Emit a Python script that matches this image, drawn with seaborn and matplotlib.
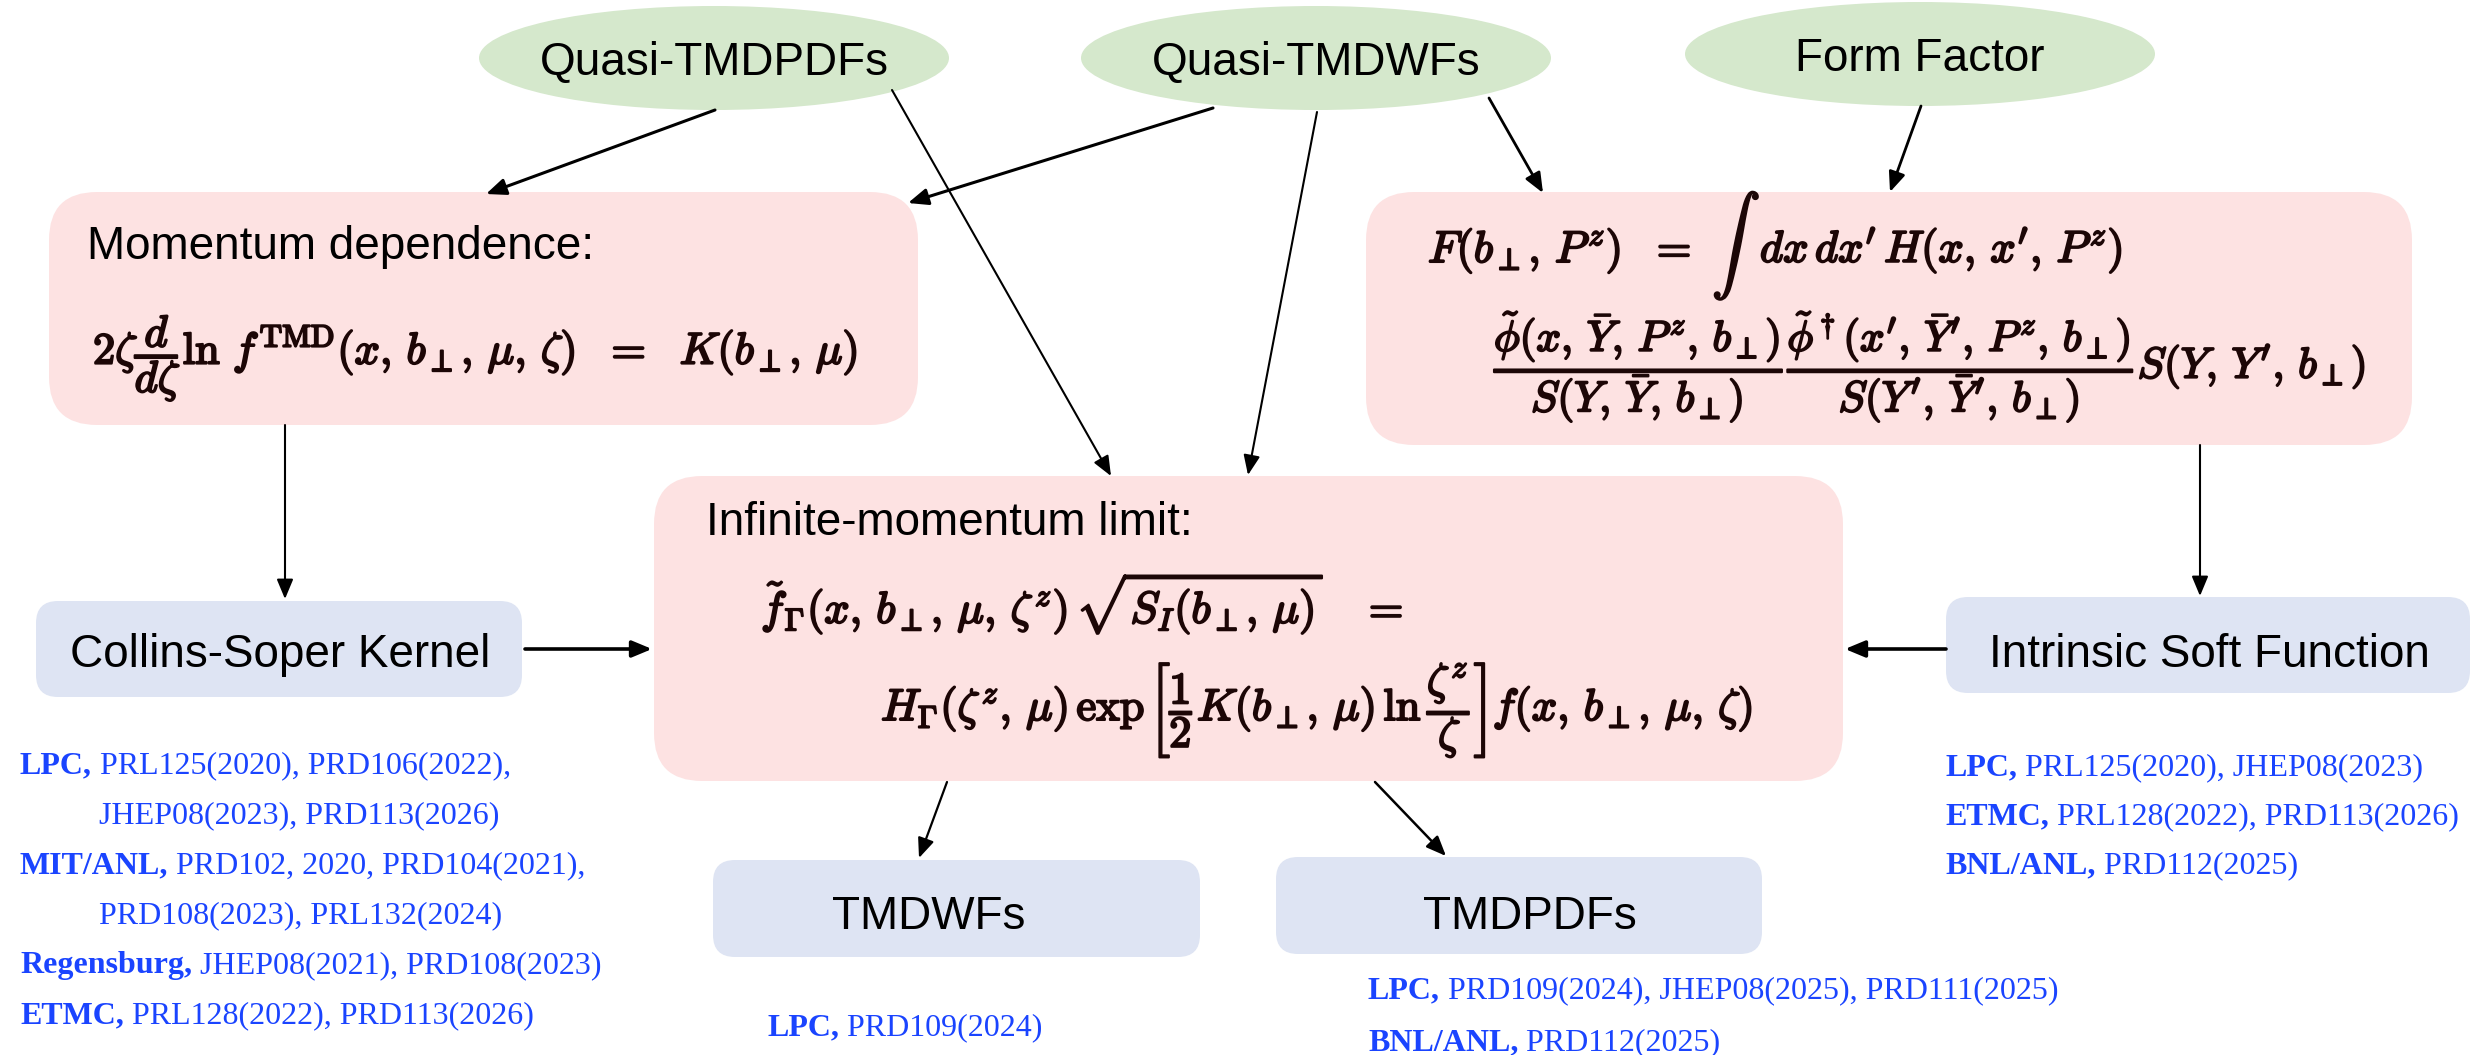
import matplotlib
matplotlib.use("Agg")
import matplotlib.pyplot as plt
import matplotlib.patheffects as pe
import seaborn as sns
from matplotlib.patches import Ellipse, FancyBboxPatch, FancyArrowPatch


# 1. Content of the diagram
source_labels = ["Quasi-TMDPDFs", "Quasi-TMDWFs", "Form Factor"]
result_labels = ["Collins-Soper Kernel", "Intrinsic Soft Function", "TMDWFs", "TMDPDFs"]
box_titles = ["Momentum dependence:", "Infinite-momentum limit:"]

eq_momentum = (r"$2\zeta\dfrac{d}{d\zeta}\ln\, f^{\mathrm{TMD}}(x,\,b_\perp,\,\mu,\,\zeta)"
               r"\ \ =\ \ K(b_\perp,\,\mu)$")
eq_form_lhs = r"$F(b_\perp,\,P^z)\ \ =$"
eq_form_int = r"$\int$"
eq_form_rhs = r"$dx\,dx'\,H(x,\,x',\,P^z)$"
eq_form_2 = (r"$\dfrac{\tilde{\phi}(x,\,\bar{Y},\,P^z,\,b_\perp)}{S(Y,\,\bar{Y},\,b_\perp)}"
             r"\dfrac{\tilde{\phi}^\dagger(x',\,\bar{Y}',\,P^z,\,b_\perp)}{S(Y',\,\bar{Y}',\,b_\perp)}"
             r"S(Y,\,Y',\,b_\perp)$")
eq_limit_1 = r"$\tilde{f}_\Gamma(x,\,b_\perp,\,\mu,\,\zeta^z)\,\sqrt{S_I(b_\perp,\,\mu)}\ \ \ =$"
eq_limit_2 = (r"$H_\Gamma(\zeta^z,\,\mu)\,\exp\left[\dfrac{1}{2}K(b_\perp,\,\mu)\,\ln\dfrac{\zeta^z}{\zeta}\right]"
              r"f(x,\,b_\perp,\,\mu,\,\zeta)$")

refs_cs = [
    ("LPC,", " PRL125(2020), PRD106(2022),"),
    ("", "JHEP08(2023), PRD113(2026)"),
    ("MIT/ANL,", " PRD102, 2020, PRD104(2021),"),
    ("", "PRD108(2023), PRL132(2024)"),
    ("Regensburg,", " JHEP08(2021), PRD108(2023)"),
    ("ETMC,", " PRL128(2022), PRD113(2026)"),
]
refs_soft = [
    ("LPC,", " PRL125(2020), JHEP08(2023)"),
    ("ETMC,", " PRL128(2022), PRD113(2026)"),
    ("BNL/ANL,", " PRD112(2025)"),
]
refs_wf = [("LPC,", " PRD109(2024)")]
refs_pdf = [
    ("LPC,", " PRD109(2024), JHEP08(2025), PRD111(2025)"),
    ("BNL/ANL,", " PRD112(2025)"),
]

# 2. Layout (pixel coordinates, y pointing down)
green, pink, blue = "#d5e8cc", "#fde2e2", "#dee4f3"
ink, math_ink, ref_ink = "black", "#1c0606", "#1a44ff"

ellipses = [(714, 58), (1316, 58), (1920, 54)]
pink_boxes = [(49, 192, 918, 425), (1366, 192, 2412, 445), (654, 476, 1843, 781)]
blue_boxes = [(36, 601, 522, 697), (1946, 597, 2470, 693), (713, 860, 1200, 957), (1276, 857, 1762, 954)]
blue_text = [(280, 667), (2209, 667), (929, 929), (1530, 929)]

arrows = [
    ((715, 110), (486, 194), 2.2),
    ((1213, 108), (908, 203), 2.2),
    ((892, 90), (1111, 476), 1.5),
    ((1317, 112), (1248, 475), 1.5),
    ((1489, 98), (1543, 193), 2.0),
    ((1921, 106), (1890, 192), 2.0),
    ((285, 425), (285, 599), 1.5),
    ((2200, 445), (2200, 596), 1.5),
    ((525, 649), (652, 649), 2.6),
    ((1946, 649), (1845, 649), 2.6),
    ((947, 782), (919, 858), 1.6),
    ((1375, 782), (1446, 856), 1.8),
]

# 3. Style
sns.set_theme(style="white")
plt.rcParams["font.family"] = ["Liberation Sans", "DejaVu Sans"]
plt.rcParams["mathtext.fontset"] = "cm"

fig = plt.figure(figsize=(24.76, 10.55), dpi=100)
ax = fig.add_axes([0, 0, 1, 1])
ax.set_xlim(0, 2476)
ax.set_ylim(1055, 0)
ax.set_axis_off()

# 4. Shapes
for (cx, cy), label in zip(ellipses, source_labels):
    ax.add_patch(Ellipse((cx, cy), 470, 104, facecolor=green, edgecolor="none"))
    ax.text(cx, cy + 17, label, fontsize=33, color=ink, ha="center", va="baseline")

for x0, y0, x1, y1 in pink_boxes:
    ax.add_patch(FancyBboxPatch((x0, y0), x1 - x0, y1 - y0,
                                boxstyle="round,pad=0,rounding_size=48",
                                facecolor=pink, edgecolor="none"))

for (x0, y0, x1, y1), (tx, ty), label in zip(blue_boxes, blue_text, result_labels):
    ax.add_patch(FancyBboxPatch((x0, y0), x1 - x0, y1 - y0,
                                boxstyle="round,pad=0,rounding_size=22",
                                facecolor=blue, edgecolor="none"))
    ax.text(tx, ty, label, fontsize=33, color=ink, ha="center", va="baseline")

# 5. Box contents
ax.text(87, 259, box_titles[0], fontsize=33, color=ink, va="baseline")
ax.text(706, 535, box_titles[1], fontsize=33, color=ink, va="baseline")

bold = [pe.withStroke(linewidth=1.5, foreground=math_ink)]
math_kw = dict(color=math_ink, va="baseline", path_effects=bold)
ax.text(93, 364, eq_momentum, fontsize=32, **math_kw)
ax.text(1428, 262, eq_form_lhs, fontsize=32, **math_kw)
ax.text(1712, 246, eq_form_int, fontsize=35, color=math_ink, ha="left", va="center",
        path_effects=bold)
ax.text(1760, 262, eq_form_rhs, fontsize=32, **math_kw)
ax.text(1494, 378, eq_form_2, fontsize=31, **math_kw)
ax.text(761, 623, eq_limit_1, fontsize=32, **math_kw)
ax.text(881, 720, eq_limit_2, fontsize=32, **math_kw)

# 6. Arrows
for start, end, lw in arrows:
    ax.add_patch(FancyArrowPatch(start, end,
                                 arrowstyle="-|>,head_length=0.6,head_width=0.25",
                                 mutation_scale=20, lw=lw, color="black",
                                 shrinkA=0, shrinkB=0))

# 7. Reference lists (bold group name followed by plain references)
renderer = fig.canvas.get_renderer()


def draw_refs(refs, x, y, indent, step):
    for group, rest in refs:
        tx = x if group else x + indent
        if group:
            t = ax.text(tx, y, group, fontsize=23, color=ref_ink, va="baseline",
                        family="Liberation Serif", weight="bold")
            tx += t.get_window_extent(renderer).width
        ax.text(tx, y, rest, fontsize=23, color=ref_ink, va="baseline",
                family="Liberation Serif")
        y += step


draw_refs(refs_cs, 20, 773, 79, 50)
draw_refs(refs_soft, 1945, 775, 0, 49)
draw_refs(refs_wf, 767, 1035, 0, 50)
draw_refs(refs_pdf, 1368, 998, 0, 52)

fig.savefig("out.png", dpi=100)
